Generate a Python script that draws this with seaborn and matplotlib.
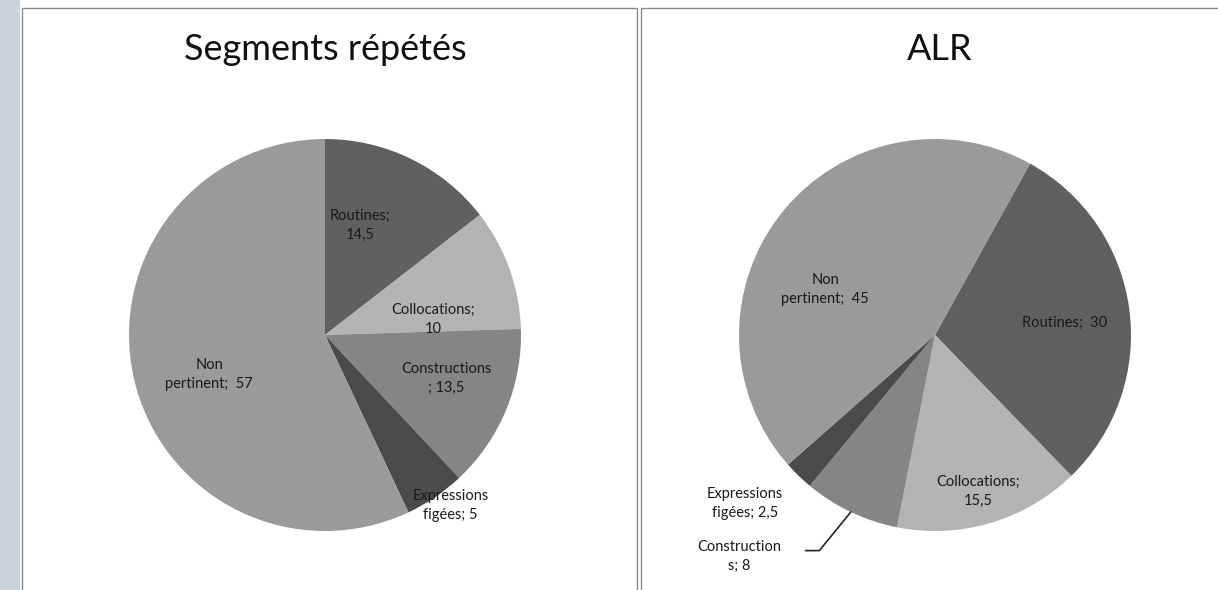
import numpy as np
import matplotlib
matplotlib.use("Agg")
import matplotlib.pyplot as plt
import seaborn as sns
from matplotlib.patches import Rectangle

# données
categories = ["Routines", "Collocations", "Constructions", "Expressions figées", "Non pertinent"]
segments_vals = [14.5, 10, 13.5, 5, 57]
alr_vals = [30, 15.5, 8, 2.5, 45]
segments_labels = ["Routines;\n14,5", "Collocations;\n10", "Constructions\n; 13,5",
                   "Expressions\nfigées; 5", "Non\npertinent;  57"]
alr_labels = ["Routines;  30", "Collocations;\n15,5", "Construction\ns; 8",
              "Expressions\nfigées; 2,5", "Non\npertinent;  45"]
titres = ["Segments répétés", "ALR"]

sns.set_theme(style="white")
plt.rcParams["font.family"] = ["Lato", "DejaVu Sans"]

couleurs = ["#606060", "#b3b3b3", "#858585", "#4b4b4b", "#9a9a9a"]

fig = plt.figure(figsize=(12.18, 5.9), dpi=100)
W, H = 1218, 590

# bande grise à gauche et cadres des deux graphiques
fig.patches.append(Rectangle((0, 0), 20 / W, 1, transform=fig.transFigure,
                             facecolor="#c9d3dc", edgecolor="none", zorder=-5))
fig.patches.append(Rectangle((22 / W, -0.02), 615 / W, (582 / H) + 0.02, transform=fig.transFigure,
                             facecolor="none", edgecolor="#8a8a8a", lw=1, zorder=-5))
fig.patches.append(Rectangle((641 / W, -0.02), 600 / W, (582 / H) + 0.02, transform=fig.transFigure,
                             facecolor="none", edgecolor="#8a8a8a", lw=1, zorder=-5))

fig.text(325 / W, 1 - 50 / H, titres[0], ha="center", va="center", fontsize=26, color="#111111")
fig.text(940 / W, 1 - 50 / H, titres[1], ha="center", va="center", fontsize=26, color="#111111")

r_px = 196
ax1 = fig.add_axes([(325 - r_px) / W, (590 - 335 - r_px) / H, 2 * r_px / W, 2 * r_px / H])
ax2 = fig.add_axes([(935 - r_px) / W, (590 - 335 - r_px) / H, 2 * r_px / W, 2 * r_px / H])

ax1.pie(segments_vals, colors=couleurs, startangle=90, counterclock=False,
        wedgeprops=dict(edgecolor="none"))
ax2.pie(alr_vals, colors=couleurs, startangle=61, counterclock=False,
        wedgeprops=dict(edgecolor="none"))

for ax in (ax1, ax2):
    ax.set_xlim(-1, 1)
    ax.set_ylim(-1, 1)
    ax.set_aspect("equal")
    ax.axis("off")
    ax.patch.set_alpha(0)

# positions des étiquettes (en rayon)
pos1 = [(0.18, 0.56), (0.55, 0.08), (0.62, -0.22), (0.64, -0.87), (-0.59, -0.20)]
pos2 = [(0.66, 0.06), (0.22, -0.80), (-1.00, -1.13), (-0.97, -0.86), (-0.56, 0.23)]

for lab, p in zip(segments_labels, pos1):
    ax1.text(p[0], p[1], lab, ha="center", va="center", fontsize=10.5,
             color="#1a1a1a", linespacing=1.45)
for lab, p in zip(alr_labels, pos2):
    ax2.text(p[0], p[1], lab, ha="center", va="center", fontsize=10.5,
             color="#1a1a1a", linespacing=1.45, clip_on=False)

# ligne de rappel pour Constructions (ALR)
total = sum(alr_vals)
debut = 29 + 360 * sum(alr_vals[:2]) / total
milieu = np.radians(debut + 360 * alr_vals[2] / total / 2)
x0, y0 = np.sin(milieu), np.cos(milieu)
ax2.plot([x0, -0.59, -0.66], [y0, -1.10, -1.10], color="#222222", lw=1.2, clip_on=False)

fig.savefig("out.png", dpi=100)
